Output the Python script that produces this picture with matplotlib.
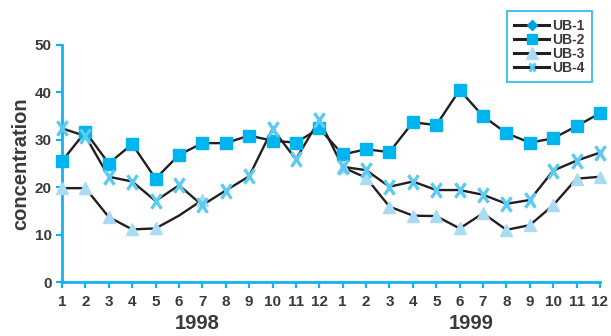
import numpy as np
import matplotlib
matplotlib.use("Agg")
import matplotlib.pyplot as plt
from matplotlib.path import Path
from matplotlib.lines import Line2D

plt.rcParams['font.family'] = ['Liberation Sans', 'DejaVu Sans']

months = list(range(1, 13))
years = ["1998", "1999"]
tick_labels = [str(m) for m in months] * 2

nan = np.nan
ub1 = [nan] * 24
ub2 = [25.5, 31.7, 25.0, 29.1, 21.8, 26.8, 29.3, 29.3, 30.9, 29.8, 29.4, 32.4,
       26.9, 28.0, 27.4, 33.7, 33.1, 40.5, 35.0, 31.4, 29.4, 30.3, 32.9, 35.6]
ub3 = [19.8, 19.8, 13.7, 11.1, 11.3, 14.0, 17.3, nan, nan, nan, nan, nan,
       24.2, 22.0, 15.9, 14.0, 13.9, 11.3, 14.5, 11.0, 12.0, 16.2, 21.8, 22.2]
ub4 = [32.4, 30.8, 22.2, 21.2, 17.1, 20.4, 16.2, 19.3, 22.3, 32.3, 25.9, 34.2,
       24.3, 23.6, 20.1, 21.2, 19.4, 19.4, 18.4, 16.5, 17.3, 23.5, 25.6, 27.3]

x = np.arange(1, 25)

cyan = '#00b4ef'
light = '#a9dcf4'
xcol = '#5ccaf1'
axis_col = '#14b2ec'
line_col = '#231f20'
text_col = '#3a3a3a'

# tall, narrow cross marker
xmark = Path([(-0.68, -1), (0.68, 1), (-0.68, 1), (0.68, -1)],
             [Path.MOVETO, Path.LINETO, Path.MOVETO, Path.LINETO])

fig = plt.figure(figsize=(6.11, 3.36), dpi=100)
ax = fig.add_axes([62 / 611, 1 - 282 / 336, (600 - 62) / 611, (282 - 45) / 336])

# connecting lines
for vals in (ub1, ub2, ub3, ub4):
    ax.plot(x, vals, color=line_col, lw=1.7, zorder=2, clip_on=False)

# markers
ub3_marks = [i for i in range(24) if i != 5]
ax.plot(x, ub1, ls='none', marker='D', ms=6, color='#009fe0', zorder=3, clip_on=False)
ax.plot(x, ub2, ls='none', marker='s', ms=8.2, color=cyan, mec=cyan, zorder=3,
        clip_on=False)
ax.plot(x, ub3, ls='none', marker='^', ms=9, color=light, mec=light,
        markevery=ub3_marks, zorder=3, clip_on=False)
ax.plot(x, ub4, ls='none', marker=xmark, ms=10.5, mew=2.4, mec=xcol,
        fillstyle='none', zorder=4, clip_on=False)

ax.set_xlim(1, 24)
ax.set_ylim(0, 50)
ax.set_yticks([0, 10, 20, 30, 40, 50])
ax.set_xticks(x)
ax.set_xticklabels(tick_labels)

for s in ('top', 'right'):
    ax.spines[s].set_visible(False)
for s in ('left', 'bottom'):
    ax.spines[s].set_color(axis_col)
    ax.spines[s].set_linewidth(2)
ax.tick_params(axis='both', colors=axis_col, width=1.6, length=4, direction='out',
               labelcolor=text_col, labelsize=11)
ax.tick_params(axis='x', pad=5)
for lab in ax.get_xticklabels() + ax.get_yticklabels():
    lab.set_fontweight('bold')

ax.set_ylabel('concentration', fontsize=14.5, fontweight='bold', color=text_col, labelpad=3)

# year labels under each block of months
for xpos, yr in zip((6.8, 18.5), years):
    ax.text(xpos, -0.135, yr, transform=ax.get_xaxis_transform(),
            ha='center', va='top', fontsize=14.5, fontweight='bold', color=text_col)

handles = [
    Line2D([], [], color=line_col, lw=2.2, marker='D', ms=5.5, mfc='#009fe0', mec='#009fe0'),
    Line2D([], [], color=line_col, lw=2.2, marker='s', ms=7.5, mfc=cyan, mec=cyan),
    Line2D([], [], color=line_col, lw=2.2, marker='^', ms=8, mfc=light, mec=light),
    Line2D([], [], color=line_col, lw=2.2, marker=xmark, ms=6, mew=2.2, mec=xcol,
           fillstyle='none'),
]
leg = fig.legend(handles, ['UB-1', 'UB-2', 'UB-3', 'UB-4'],
                 loc='upper right', bbox_to_anchor=(592 / 611, 1 - 11 / 336),
                 borderaxespad=0, frameon=True, fancybox=False, handlelength=2.5,
                 handletextpad=0.2, labelspacing=0.0, borderpad=0.55,
                 prop={'weight': 'bold', 'size': 10})
leg.get_frame().set_edgecolor(axis_col)
leg.get_frame().set_linewidth(1.4)
for t in leg.get_texts():
    t.set_color(text_col)

fig.savefig('out.png', dpi=100)
